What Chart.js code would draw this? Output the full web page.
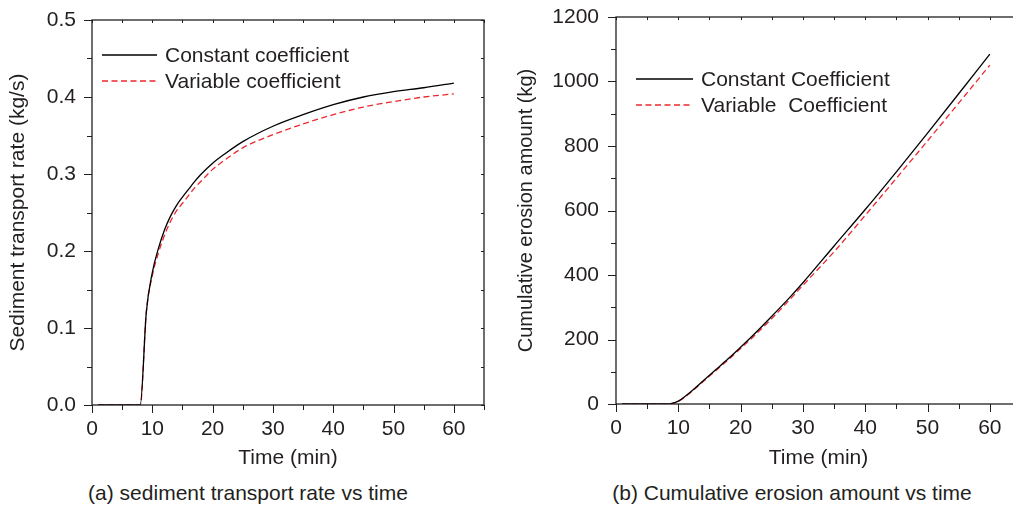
<!DOCTYPE html>
<html lang="en">
<head>
  <meta charset="utf-8"/>
  <title>Sediment transport and erosion</title>
  <script src="https://cdn.jsdelivr.net/npm/chart.js@4.4.1/dist/chart.umd.min.js"></script>
  <style>
    html, body { margin: 0; padding: 0; background: #fff; overflow: hidden; }
    body { width: 1013px; height: 506px; position: relative; font-family: "Liberation Sans", Arial, sans-serif; color: #231f20; }
    .panel { position: absolute; top: 0; height: 475px; }
    #panelA { left: 0; width: 500px; }
    #panelB { left: 505px; width: 530px; }
    .caption { position: absolute; top: 481px; font-size: 21px; line-height: 24px; white-space: nowrap; transform: translateX(-50%); }
  </style>
</head>
<body>
  <div class="panel" id="panelA"><canvas id="rateChart"></canvas></div>
  <div class="panel" id="panelB"><canvas id="erosionChart"></canvas></div>
  <div class="caption" style="left:248px">(a) sediment transport rate vs time</div>
  <div class="caption" style="left:792px">(b) Cumulative erosion amount vs time</div>

  <script>
    // (a) transport rate, kg/s
    var rateTime = [1, 8, 9, 10, 11, 12, 13, 14, 15, 16, 17, 18, 20, 22, 25, 30, 35, 40, 45, 50, 55, 60];
    var rateConst = [0, 0, 0.12, 0.172, 0.203, 0.227, 0.245, 0.259, 0.27, 0.28, 0.29, 0.299, 0.314, 0.326, 0.342, 0.362, 0.377, 0.39, 0.40, 0.407, 0.412, 0.418];
    var rateVar = [0, 0, 0.12, 0.168, 0.197, 0.22, 0.238, 0.252, 0.262, 0.272, 0.282, 0.29, 0.306, 0.318, 0.334, 0.351, 0.365, 0.377, 0.387, 0.394, 0.400, 0.404];

    // (b) cumulative erosion, kg
    var erosionTime = [1, 8, 9, 10, 12, 14, 16, 18, 20, 22, 25, 28, 30, 35, 40, 45, 50, 55, 60];
    var erosionConst = [0, 0, 2, 9, 38, 72, 106, 140, 176, 213, 272, 333, 376, 490, 603, 720, 840, 962, 1085];
    var erosionVar = [0, 0, 2, 8, 36, 70, 103, 137, 172, 208, 265, 326, 368, 472, 585, 700, 816, 933, 1051];

    var labelsA = ['Constant coefficient', 'Variable coefficient'];
    var labelsB = ['Constant Coefficient', 'Variable  Coefficient'];

    var ink = '#231f20';
    var red = 'rgb(236, 40, 46)';
    var fontMain = { family: '"Liberation Sans", Arial, sans-serif', size: 21 };

    function pts(xs, ys) {
      return xs.map(function (t, i) { return { x: t, y: ys[i] }; });
    }

    function isMult(v, step) {
      var q = v / step;
      return Math.abs(q - Math.round(q)) < 1e-6;
    }

    // box, ticks (major/minor) on all sides
    var frameTicks = {
      id: 'frameTicks',
      afterDraw: function (chart) {
        var ctx = chart.ctx, a = chart.chartArea, x = chart.scales.x, y = chart.scales.y;
        ctx.save();
        ctx.strokeStyle = ink;
        ctx.lineWidth = 1.3;
        ctx.strokeRect(a.left, a.top, a.right - a.left, a.bottom - a.top);
        ctx.beginPath();
        x.ticks.forEach(function (t) {
          var px = Math.round(x.getPixelForValue(t.value)) + 0.5;
          var len = t.label !== '' ? 8 : 5;
          ctx.moveTo(px, a.bottom); ctx.lineTo(px, a.bottom + len);
          ctx.moveTo(px, a.top); ctx.lineTo(px, a.top + 3);
        });
        y.ticks.forEach(function (t) {
          var py = Math.round(y.getPixelForValue(t.value)) + 0.5;
          var len = t.label !== '' ? 8 : 5;
          ctx.moveTo(a.left, py); ctx.lineTo(a.left - len, py);
          ctx.moveTo(a.right, py); ctx.lineTo(a.right - 3, py);
        });
        ctx.lineWidth = 1;
        ctx.stroke();
        ctx.restore();
      }
    };

    // legend drawn inside the plot
    var insetLegend = {
      id: 'insetLegend',
      afterDatasetsDraw: function (chart, args, o) {
        var ctx = chart.ctx, a = chart.chartArea;
        ctx.save();
        ctx.font = '21px "Liberation Sans", Arial, sans-serif';
        ctx.textBaseline = 'middle';
        chart.data.datasets.forEach(function (ds, i) {
          var yy = a.top + o.y0 + i * o.gap;
          ctx.strokeStyle = ds.borderColor;
          ctx.lineWidth = ds.borderWidth;
          ctx.setLineDash(ds.borderDash || []);
          ctx.beginPath();
          ctx.moveTo(a.left + o.x0, yy);
          ctx.lineTo(a.left + o.x0 + o.len, yy);
          ctx.stroke();
          ctx.fillStyle = ink;
          ctx.fillText(ds.label, a.left + o.x0 + o.len + 8, yy + 1);
        });
        ctx.restore();
      }
    };

    function makeChart(id, cfg) {
      return new Chart(document.getElementById(id), {
        type: 'line',
        data: {
          datasets: [{
            label: cfg.labels[0],
            data: pts(cfg.time, cfg.c),
            borderColor: '#000',
            borderWidth: 1.3,
            pointRadius: 0,
            cubicInterpolationMode: 'monotone'
          }, {
            label: cfg.labels[1],
            data: pts(cfg.time, cfg.v),
            borderColor: red,
            borderWidth: 1.3,
            borderDash: [6, 3.5],
            pointRadius: 0,
            cubicInterpolationMode: 'monotone'
          }]
        },
        options: {
          responsive: true,
          maintainAspectRatio: false,
          animation: false,
          layout: { padding: cfg.pad },
          plugins: {
            legend: { display: false },
            tooltip: { enabled: false },
            insetLegend: cfg.legend
          },
          scales: {
            x: {
              type: 'linear',
              min: 0, max: 65,
              grid: { display: false, drawTicks: false },
              border: { display: false },
              ticks: {
                stepSize: 5, autoSkip: false, maxRotation: 0, padding: 12,
                color: ink, font: fontMain,
                callback: function (v) { return isMult(v, 10) ? String(v) : ''; }
              },
              title: { display: true, text: 'Time (min)', color: ink, font: fontMain, padding: { top: 0, bottom: 4 } },
              afterFit: function (s) { s.height = cfg.xh; s.paddingLeft = 0; s.paddingRight = 0; }
            },
            y: {
              min: 0, max: cfg.ymax,
              grid: { display: false, drawTicks: false },
              border: { display: false },
              ticks: {
                stepSize: cfg.ystep, autoSkip: false, padding: cfg.ypad,
                color: ink, font: fontMain,
                callback: cfg.yfmt
              },
              title: {
                display: true, text: cfg.ytitle, color: ink,
                font: { family: fontMain.family, size: cfg.yts },
                padding: { top: cfg.ytp, bottom: 0 }
              },
              afterFit: function (s) { s.width = cfg.yw; s.paddingTop = 0; s.paddingBottom = 0; }
            }
          }
        },
        plugins: [frameTicks, insetLegend]
      });
    }

    makeChart('rateChart', {
      time: rateTime, c: rateConst, v: rateVar, labels: labelsA,
      pad: { top: 20, right: 16, left: 0, bottom: 0 },
      xh: 70, yw: 92, ymax: 0.5, ystep: 0.05, ypad: 16, ytp: 6, yts: 21,
      ytitle: 'Sediment transport rate (kg/s)',
      yfmt: function (v) { return isMult(v, 0.1) ? v.toFixed(1) : ''; },
      legend: { x0: 10, y0: 35, gap: 26, len: 55 }
    });

    makeChart('erosionChart', {
      time: erosionTime, c: erosionConst, v: erosionVar, labels: labelsB,
      pad: { top: 17, right: 14, left: 0, bottom: 0 },
      xh: 71, yw: 111, ymax: 1200, ystep: 100, ypad: 17, ytp: 9, yts: 20,
      ytitle: 'Cumulative erosion amount (kg)',
      yfmt: function (v) { return isMult(v, 200) ? String(v) : ''; },
      legend: { x0: 20, y0: 62, gap: 26, len: 57 }
    });
  </script>
</body>
</html>
